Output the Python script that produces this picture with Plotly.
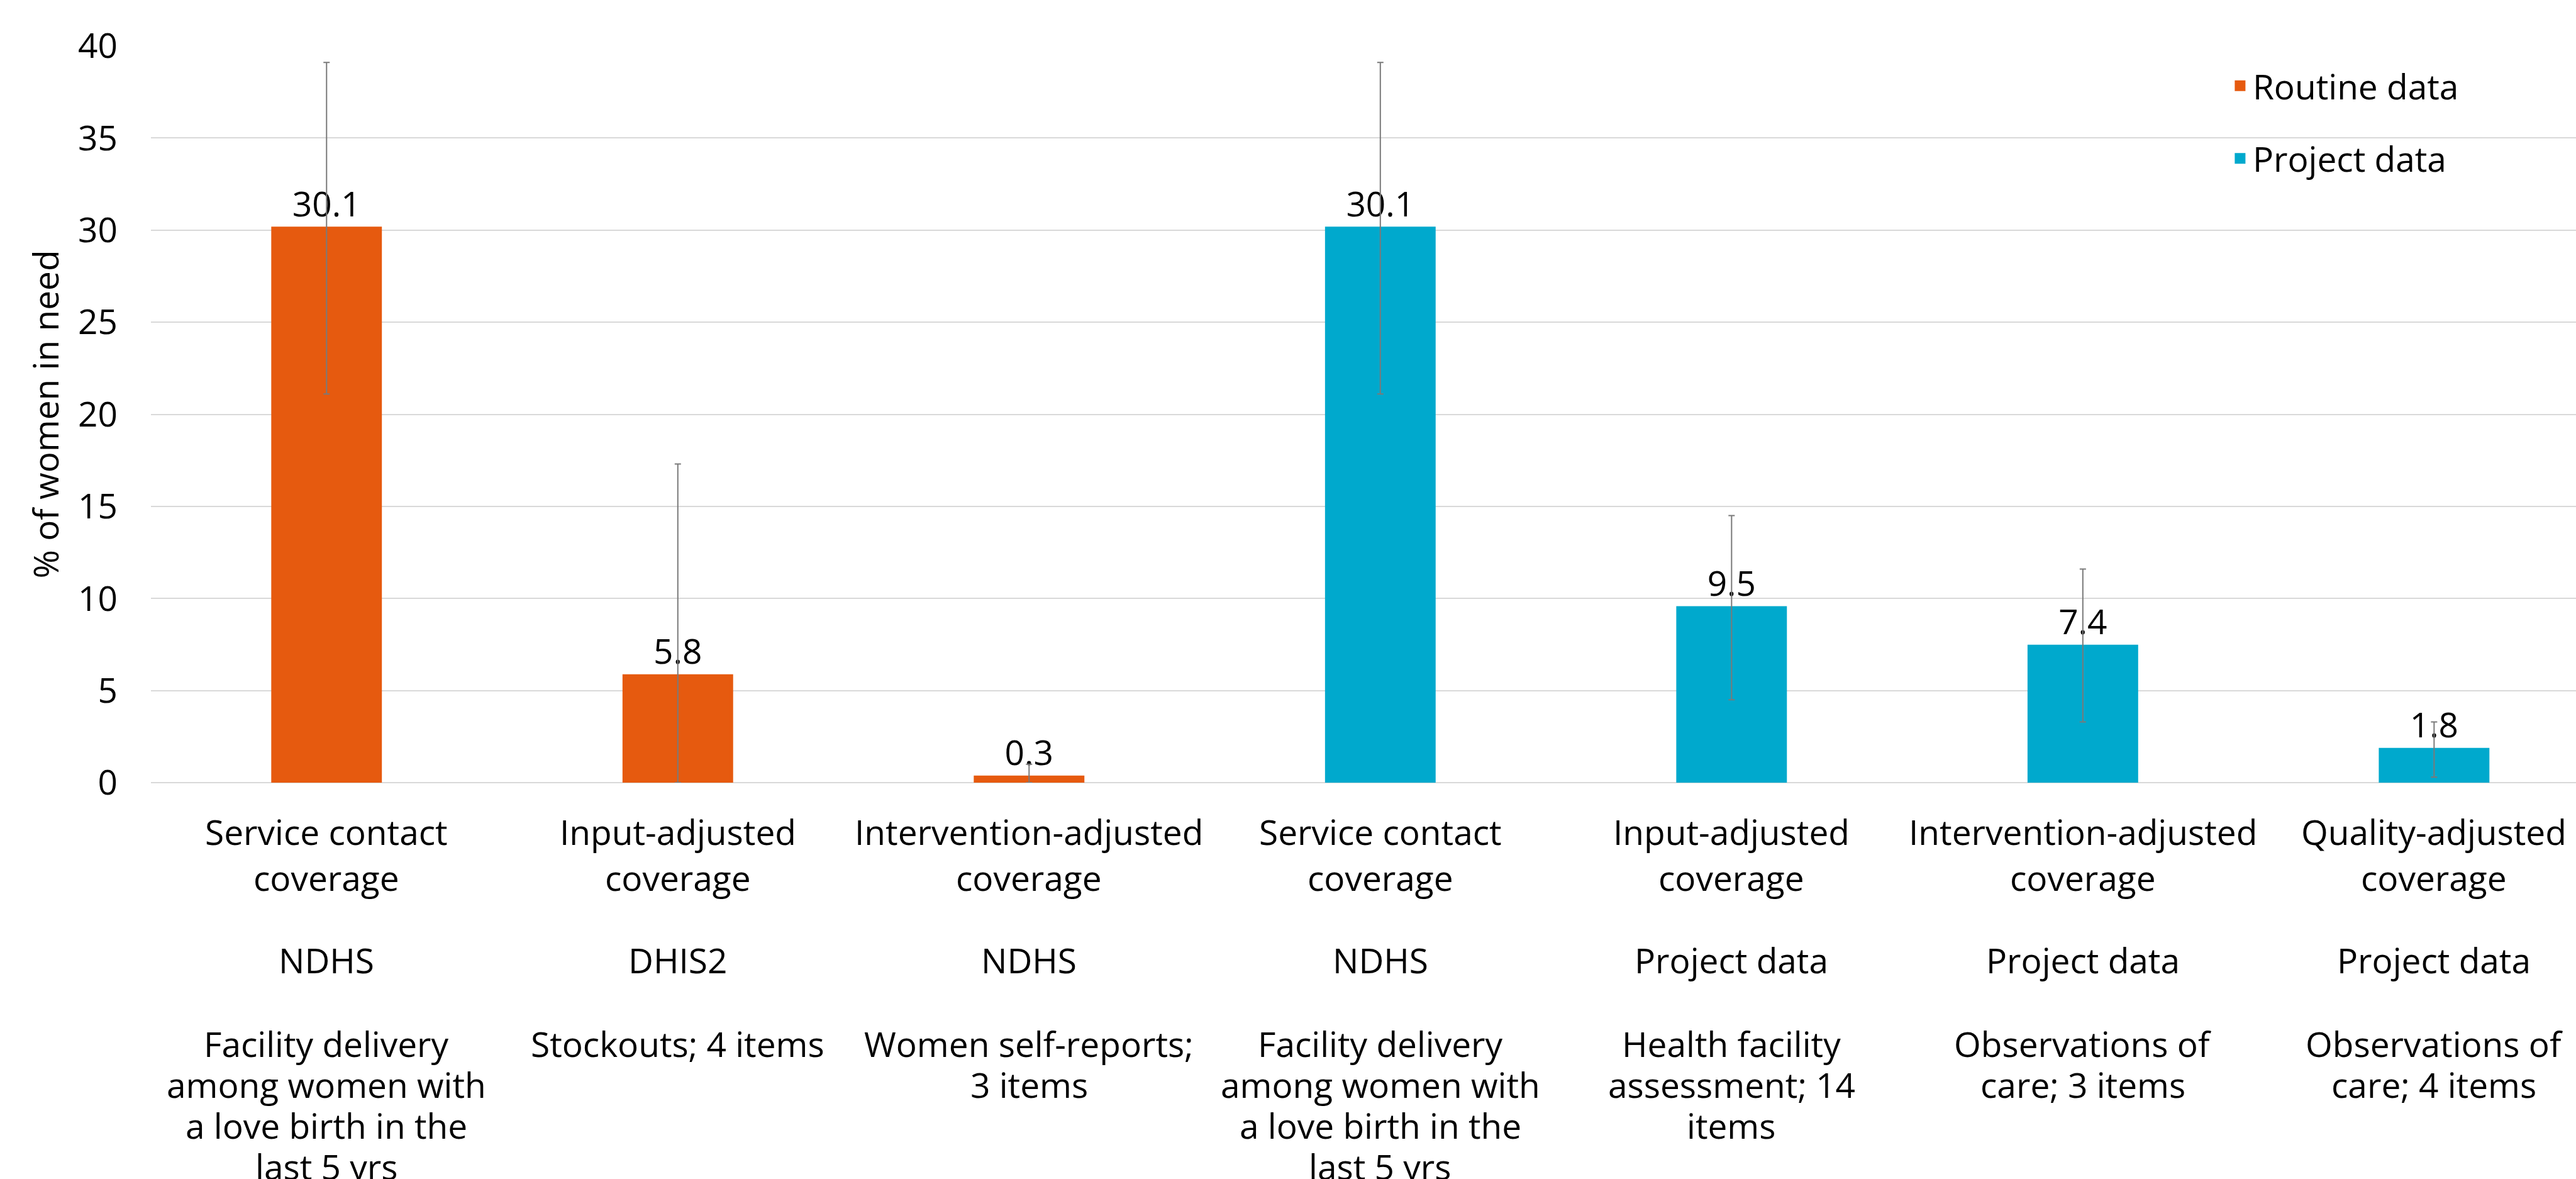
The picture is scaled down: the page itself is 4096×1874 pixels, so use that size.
import plotly.graph_objects as go

# ---- data ----
coverage_types = ["Service contact\ncoverage", "Input-adjusted\ncoverage", "Intervention-adjusted\ncoverage",
                  "Service contact\ncoverage", "Input-adjusted\ncoverage", "Intervention-adjusted\ncoverage",
                  "Quality-adjusted\ncoverage"]
sources = ["NDHS", "DHIS2", "NDHS", "NDHS", "Project data", "Project data", "Project data"]
methods = ["Facility delivery\namong women with\na love birth in the\nlast 5 yrs",
           "Stockouts; 4 items",
           "Women self-reports;\n3 items",
           "Facility delivery\namong women with\na love birth in the\nlast 5 yrs",
           "Health facility\nassessment; 14\nitems",
           "Observations of\ncare; 3 items",
           "Observations of\ncare; 4 items"]

routine_idx = [0, 1, 2]
routine_vals = [30.1, 5.8, 0.3]
routine_err_plus = [9.0, 11.5, 0.7]
routine_err_minus = [9.0, 5.8, 0.3]

project_idx = [3, 4, 5, 6]
project_vals = [30.1, 9.5, 7.4, 1.8]
project_err_plus = [9.0, 5.0, 4.2, 1.5]
project_err_minus = [9.0, 5.0, 4.1, 1.5]

series_names = ["Routine data", "Project data"]
y_ticks = [0, 5, 10, 15, 20, 25, 30, 35, 40]

# ---- style ----
FONT = "Open Sans"
FS = 55
ORANGE = "#E65A0F"
BLUE = "#00A9CD"
ERR = "#7a7a7a"

fig = go.Figure()
for idx, vals, ep, em, name, col, grp in [
    (routine_idx, routine_vals, routine_err_plus, routine_err_minus, series_names[0], ORANGE, "a"),
    (project_idx, project_vals, project_err_plus, project_err_minus, series_names[1], BLUE, "b"),
]:
    fig.add_trace(go.Bar(
        x=idx, y=vals, name=name, width=0.306,
        marker=dict(color=col, line=dict(width=5, color=col)),
        text=[f"{v:.1f}" for v in vals], textposition="outside",
        textfont=dict(family=FONT, size=FS, color="#000000"),
        constraintext="none", cliponaxis=False,
        error_y=dict(type="data", symmetric=False, array=ep, arrayminus=em,
                     color=ERR, thickness=2, width=5),
        legendgroup=grp,
    ))

# multi-row category labels
row_specs = [
    (coverage_types, -77, 73.5),
    (sources, -281, 73.5),
    (methods, -414, 65),
]
for texts, y0, step in row_specs:
    for i, t in enumerate(texts):
        for j, line in enumerate(t.split("\n")):
            fig.add_annotation(
                x=i, xref="x", y=0, yref="paper", yanchor="middle", xanchor="center",
                yshift=y0 - j * step, text=line, showarrow=False,
                font=dict(family=FONT, size=FS, color="#000000"),
            )

fig.update_layout(
    width=4096, height=1874,
    margin=dict(l=240, r=0, t=73, b=630, autoexpand=False),
    paper_bgcolor="white", plot_bgcolor="white",
    barmode="overlay",
    font=dict(family=FONT, size=FS, color="#000000"),
    showlegend=True,
    legend=dict(x=0.8563, xanchor="left", y=0.982, yanchor="top",
                font=dict(family=FONT, size=FS, color="#000000"),
                tracegroupgap=41, traceorder="grouped", bgcolor="rgba(0,0,0,0)"),
    xaxis=dict(range=[-0.5, 6.404], showticklabels=False, showgrid=False,
               zeroline=False, showline=False, ticks=""),
    yaxis=dict(range=[0, 40], tickvals=y_ticks, showgrid=True, gridcolor="#d9d9d9",
               gridwidth=2, zeroline=True, zerolinecolor="#d9d9d9", zerolinewidth=2,
               showline=False, ticks="", ticklabelstandoff=52,
               tickfont=dict(family=FONT, size=FS, color="#000000"),
               title=dict(text="% of women in need", standoff=12,
                          font=dict(family=FONT, size=FS, color="#000000"))),
)

fig.write_html("out.html", config={"displayModeBar": False},
               post_script="document.body.style.margin='0';document.body.style.padding='0';")
